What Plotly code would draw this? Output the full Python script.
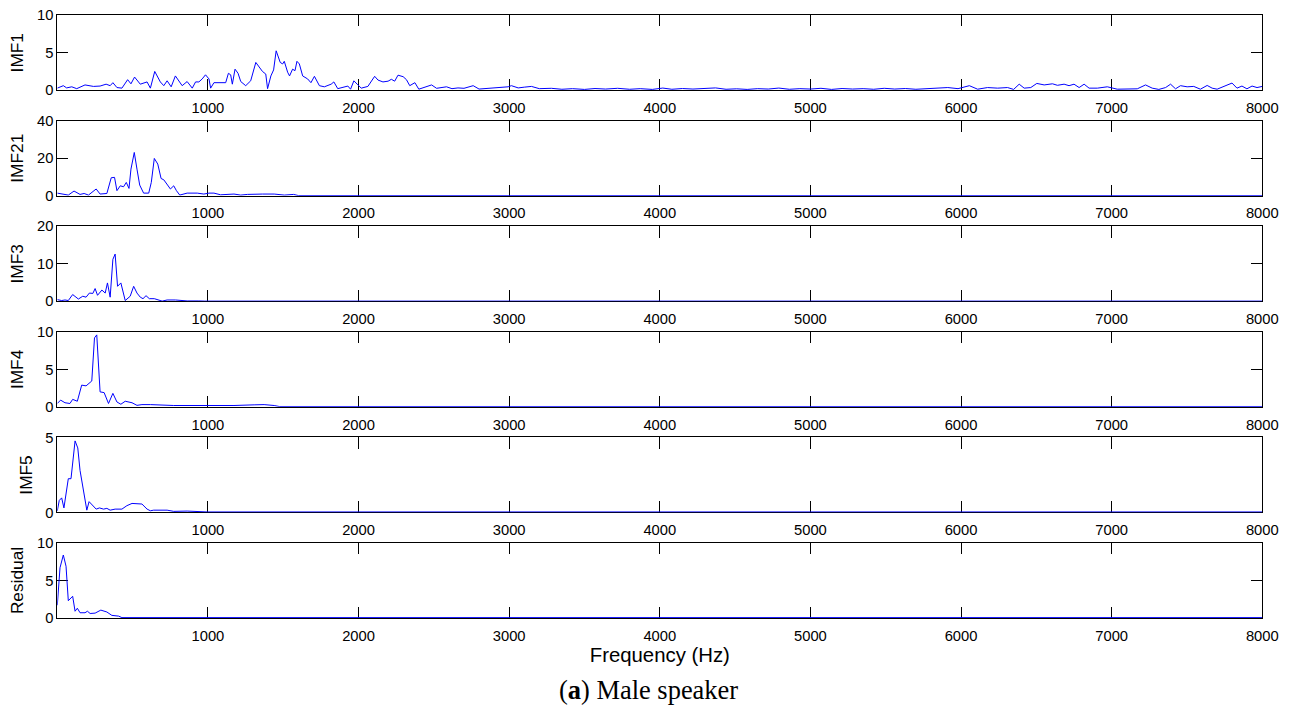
import plotly.graph_objects as go

# Frequency axis
x_ticks = [1000, 2000, 3000, 4000, 5000, 6000, 7000, 8000]

# IMF1 spectrum
imf1_freq = [0, 40, 62, 96, 129, 184, 240, 284, 324, 351, 369, 396, 429, 467, 489, 513, 551, 596, 618, 647,
             684, 707, 729, 756, 784, 807, 829, 862, 896, 918, 940, 962, 984, 1007, 1018, 1040, 1084, 1118, 1136,
             1151, 1162, 1180, 1200, 1218, 1251, 1284, 1318, 1340, 1362, 1384, 1396, 1418, 1436, 1453, 1480,
             1496, 1507, 1529, 1542, 1562, 1578, 1591, 1607, 1629, 1662, 1684, 1707, 1740, 1773, 1818, 1836,
             1862, 1896, 1929, 1947, 1969, 1991, 2018, 2062, 2107, 2129, 2162, 2196, 2218, 2240, 2262, 2296,
             2318, 2340, 2374, 2400, 2451, 2485, 2518, 2550, 2584, 2620, 2660, 2700, 2761, 2800, 2850, 2900,
             2950, 2993, 3015, 3060, 3100, 3148, 3200, 3280, 3350, 3420, 3500, 3570, 3640, 3720, 3800, 3870,
             3950, 4020, 4080, 4150, 4220, 4300, 4370, 4440, 4510, 4580, 4650, 4720, 4790, 4860, 4930, 5000,
             5070, 5140, 5210, 5280, 5350, 5420, 5490, 5560, 5630, 5700, 5770, 5840, 5912, 5980, 6055, 6110,
             6176, 6243, 6309, 6349, 6386, 6419, 6463, 6503, 6552, 6607, 6640, 6684, 6717, 6750, 6784, 6817,
             6850, 6905, 6971, 7037, 7126, 7170, 7225, 7269, 7313, 7358, 7391, 7424, 7457, 7501, 7545, 7589,
             7634, 7667, 7700, 7744, 7799, 7832, 7865, 7898, 7932, 7965, 8000]
imf1_amp = [0.27, 0.6, 0.3, 0.45, 0.2, 0.7, 0.5, 0.55, 0.8, 0.6, 1.0, 0.35, 0.27, 1.4, 0.85, 1.75, 0.8, 1.1,
            0.27, 2.5, 1.1, 0.6, 1.25, 0.45, 1.9, 1.25, 0.6, 1.15, 0.27, 1.1, 1.1, 1.5, 2.05, 1.5, 0.27, 1.0,
            1.0, 1.0, 2.25, 2.05, 0.8, 2.8, 2.25, 1.15, 0.6, 1.25, 3.7, 3.05, 2.5, 2.15, 0.2, 1.9, 2.7, 5.25,
            3.7, 3.5, 3.85, 2.4, 1.9, 2.8, 2.6, 3.85, 3.5, 1.9, 1.5, 1.0, 1.85, 0.6, 0.45, 0.8, 1.1, 0.2, 0.35,
            0.55, 0.13, 1.25, 0.8, 0.27, 0.5, 1.85, 1.35, 1.1, 1.2, 1.45, 1.2, 2.0, 1.8, 1.4, 0.6, 1.0, 0.13,
            0.5, 0.7, 0.25, 0.3, 0.45, 0.2, 0.3, 0.25, 0.6, 0.15, 0.25, 0.3, 0.35, 0.45, 0.6, 0.3, 0.4, 0.5,
            0.2, 0.25, 0.12, 0.2, 0.1, 0.22, 0.15, 0.25, 0.12, 0.2, 0.1, 0.28, 0.12, 0.22, 0.15, 0.2, 0.3,
            0.12, 0.18, 0.1, 0.2, 0.15, 0.28, 0.12, 0.2, 0.15, 0.25, 0.1, 0.22, 0.15, 0.2, 0.12, 0.25, 0.15,
            0.22, 0.12, 0.2, 0.28, 0.35, 0.2, 0.6, 0.13, 0.35, 0.27, 0.35, 0.1, 0.8, 0.27, 0.35, 0.9, 0.7,
            0.85, 0.65, 0.8, 0.6, 0.8, 0.35, 0.8, 0.27, 0.27, 0.45, 0.13, 0.1, 0.18, 0.7, 0.27, 0.1, 0.35,
            0.8, 0.18, 0.6, 0.45, 0.5, 0.13, 0.63, 0.27, 0.13, 0.45, 0.95, 0.27, 0.55, 0.18, 0.55, 0.35, 0.5]

# IMF21 spectrum
imf21_freq = [0, 29, 73, 111, 151, 178, 207, 258, 284, 329, 358, 380, 396, 418, 440, 458, 476, 489, 511, 529,
              547, 573, 607, 624, 644, 667, 689, 707, 729, 751, 773, 791, 813, 862, 929, 973, 1007, 1040,
              1084, 1173, 1218, 1262, 1362, 1440, 1507, 1569, 1600, 8000]
imf21_amp = [1.4, 0.9, 0.35, 2.5, 0.7, 1.2, 0.35, 3.6, 0.9, 1.2, 9.6, 9.8, 2.7, 5.3, 4.8, 7.1, 3.9, 14.2,
             23.1, 14.2, 5.7, 1.4, 1.4, 7.1, 19.9, 16.9, 9.2, 8.5, 5.7, 3.6, 5.3, 2.7, 0.35, 1.4, 1.4, 0.9,
             1.4, 1.4, 0.5, 0.9, 0.35, 0.7, 0.9, 0.9, 0.35, 0.7, 0.1, 0.1]

# IMF3 spectrum
imf3_freq = [0, 29, 51, 73, 102, 140, 169, 191, 213, 236, 251, 267, 296, 318, 333, 351, 369, 384, 400, 422,
             451, 484, 507, 529, 551, 569, 589, 611, 644, 673, 696, 729, 784, 862, 907, 940, 980, 8000]
imf3_amp = [0.45, 0.2, 0.35, 0.2, 1.8, 0.6, 1.35, 1.1, 2.2, 2.1, 3.4, 1.6, 3.0, 2.2, 4.9, 1.1, 11.2, 12.6,
            4.0, 4.9, 0.2, 1.35, 4.0, 2.2, 1.1, 0.7, 1.5, 0.7, 0.7, 0.45, 0.05, 0.35, 0.35, 0.1, 0.2, 0.1,
            0.05, 0.05]

# IMF4 spectrum
imf4_freq = [0, 22, 51, 84, 102, 133, 162, 191, 229, 247, 262, 284, 311, 340, 369, 396, 422, 451, 496, 529,
             562, 618, 773, 951, 1084, 1173, 1307, 1373, 1440, 1473, 8000]
imf4_amp = [0.45, 0.9, 0.55, 0.45, 1.0, 0.75, 2.9, 2.8, 3.45, 9.2, 9.6, 2.0, 1.9, 0.45, 1.8, 0.65, 0.35,
            0.75, 0.55, 0.2, 0.3, 0.3, 0.18, 0.18, 0.13, 0.18, 0.27, 0.3, 0.18, 0.05, 0.05]

# IMF5 spectrum
imf5_freq = [0, 13, 29, 44, 73, 91, 118, 136, 151, 169, 196, 211, 236, 258, 280, 307, 329, 351, 384, 429,
             462, 496, 562, 596, 618, 640, 729, 773, 862, 951, 996, 8000]
imf5_amp = [0.1, 0.8, 0.97, 0.3, 2.25, 2.25, 4.77, 4.3, 2.8, 1.8, 0.15, 0.72, 0.45, 0.22, 0.3, 0.22, 0.27,
            0.15, 0.22, 0.22, 0.45, 0.6, 0.56, 0.22, 0.11, 0.15, 0.15, 0.07, 0.09, 0.07, 0.03, 0.03]

# Residual spectrum
residual_freq = [0, 18, 40, 58, 73, 102, 118, 133, 151, 184, 200, 218, 251, 289, 329, 362, 407, 429, 8000]
residual_amp = [1.7, 6.7, 8.4, 6.9, 2.3, 2.9, 0.9, 1.3, 0.7, 0.7, 0.9, 0.6, 0.65, 1.05, 0.8, 0.35, 0.25,
                0.05, 0.05]

panel_names = ["IMF1", "IMF21", "IMF3", "IMF4", "IMF5", "Residual"]
panel_freqs = [imf1_freq, imf21_freq, imf3_freq, imf4_freq, imf5_freq, residual_freq]
panel_amps = [imf1_amp, imf21_amp, imf3_amp, imf4_amp, imf5_amp, residual_amp]
panel_ymax = [10, 40, 20, 10, 5, 10]
panel_yticks = [[0, 5, 10], [0, 20, 40], [0, 10, 20], [0, 5, 10], [0, 5], [0, 5, 10]]

# Page geometry: the figure is laid out in screen pixels and converted to
# figure units with the page's scale (SX, SY) and top offset (OY).
SX, SY, OY = 0.98775, 0.978, 7.8
SCALE = (SX + SY) / 2


def fx(px):
    return px / SX


def fy(py):
    return (py - OY) / SY


W, H = round(fx(1290)), round(fy(708))
left_px, right_px = 57.3, 1262.3
top0_px, step_px, panel_h_px = 15.0, 105.6, 75.0

tick_font = dict(family="Liberation Sans, Arial, sans-serif", size=14.5 / SCALE, color="black")
label_font = dict(family="Liberation Sans, Arial, sans-serif", size=17 / SCALE, color="black")
tick_len = 11 / SCALE

fig = go.Figure()
layout = dict(
    width=W, height=H,
    margin=dict(l=0, r=0, t=0, b=0),
    paper_bgcolor="white", plot_bgcolor="white",
    showlegend=False,
)

n = len(panel_names)
for i in range(n):
    sfx = "" if i == 0 else str(i + 1)
    fig.add_trace(go.Scatter(
        x=panel_freqs[i], y=panel_amps[i], mode="lines",
        line=dict(color="#0000FF", width=1),
        xaxis="x" + sfx, yaxis="y" + sfx, hoverinfo="skip",
    ))
    top = top0_px + step_px * i
    bot = top + panel_h_px
    layout["xaxis" + sfx] = dict(
        domain=[fx(left_px) / W, fx(right_px) / W],
        anchor="y" + sfx,
        range=[0, 8000],
        tickvals=x_ticks,
        ticktext=[str(t) for t in x_ticks],
        ticks="inside", ticklen=tick_len, tickwidth=1, tickcolor="black",
        showline=True, linecolor="black", linewidth=1, mirror="ticks",
        showgrid=False, zeroline=False,
        tickfont=tick_font, ticklabelstandoff=4,
        layer="below traces",
    )
    layout["yaxis" + sfx] = dict(
        domain=[1 - fy(bot) / H, 1 - fy(top) / H],
        anchor="x" + sfx,
        range=[0, panel_ymax[i]],
        tickvals=panel_yticks[i],
        ticks="inside", ticklen=tick_len, tickwidth=1, tickcolor="black",
        showline=True, linecolor="black", linewidth=1, mirror="ticks",
        showgrid=False, zeroline=False,
        tickfont=tick_font,
        title=dict(text=panel_names[i], font=label_font, standoff=8),
        layer="below traces",
    )

layout["xaxis" + str(n)]["title"] = dict(
    text="Frequency (Hz)",
    font=dict(family="Liberation Sans, Arial, sans-serif", size=20 / SCALE, color="black"),
    standoff=3,
)

fig.update_layout(**layout)

fig.add_annotation(
    text="(<b>a</b>) Male speaker",
    x=fx(649) / W, y=1 - fy(690) / H, xref="paper", yref="paper",
    xanchor="center", yanchor="middle", showarrow=False,
    font=dict(family="Liberation Serif, Times New Roman, serif", size=26 / SCALE, color="black"),
)

fig.write_html("out.html")
